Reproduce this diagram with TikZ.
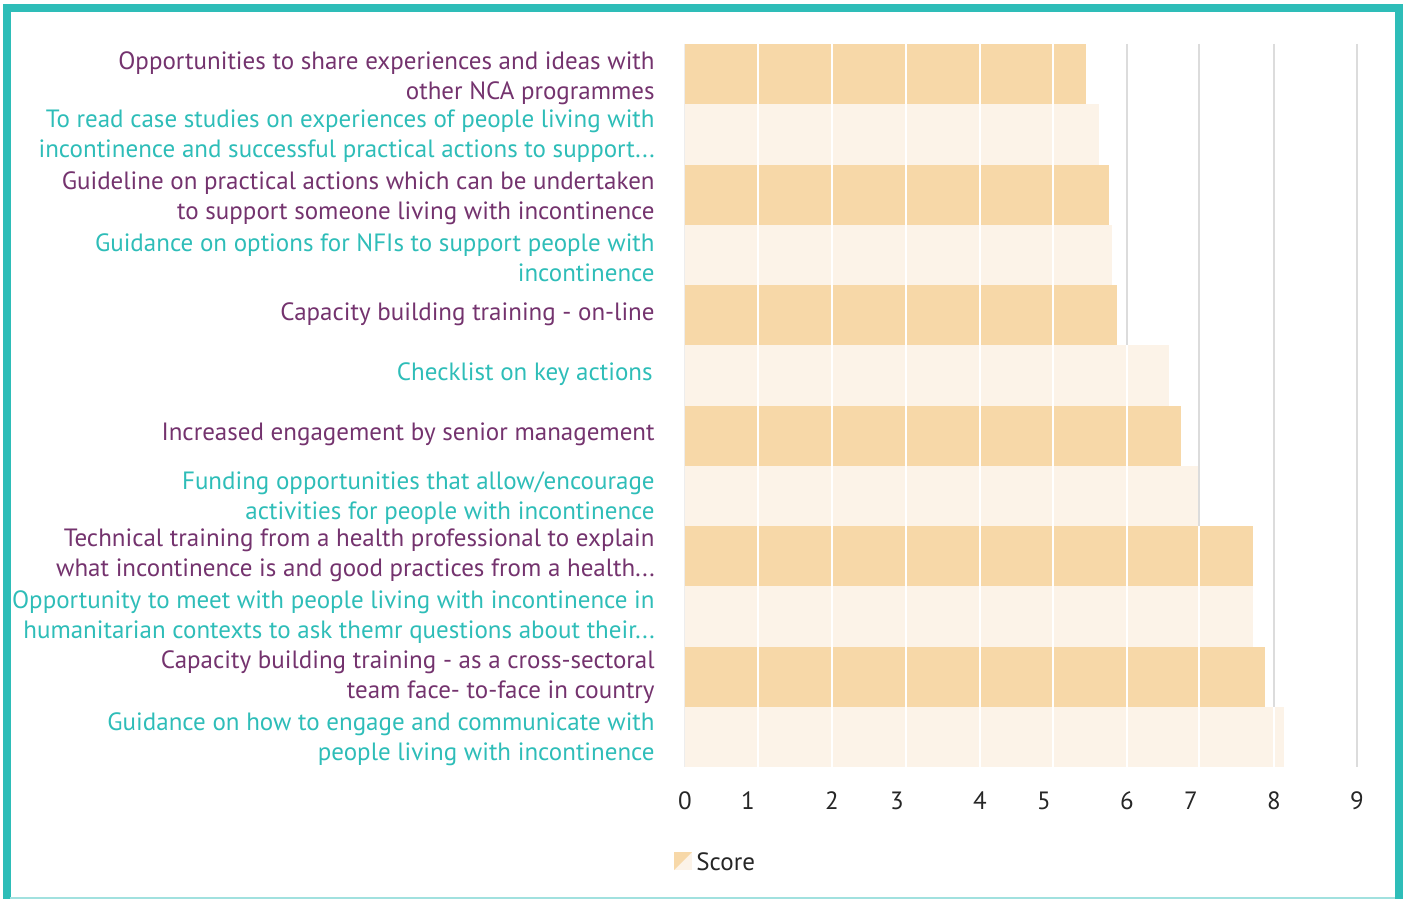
\documentclass[tikz,border=0pt]{standalone}
\usepackage{fontspec}
\setmainfont{PT Sans}
\definecolor{teal}{HTML}{2EBDB8}
\definecolor{plum}{HTML}{74336E}
\definecolor{barA}{HTML}{F7D8A8}
\definecolor{barB}{HTML}{FCF3E8}
\definecolor{gridc}{HTML}{DCDCDC}
\begin{document}
\begin{tikzpicture}[x=0.5pt,y=-0.5pt,
  lab/.style={anchor=east,align=right,inner sep=0pt,font=\fontsize{12.5}{15}\selectfont},
  odd/.style={lab,text=plum},even/.style={lab,text=teal},
  tick/.style={inner sep=0pt,font=\fontsize{12.5}{15}\selectfont,text=black!85}]

\useasboundingbox (0,0) rectangle (1407,899);

% frame
\fill[teal] (3,4) rectangle (1403,12);
\fill[teal] (3,4) rectangle (10.5,899);
\fill[teal] (1395,4) rectangle (1403,899);
\draw[teal!45,line width=1pt] (10,898) -- (1395,898);

% grid
\foreach \x in {758,832,906,980,1053,1127,1199,1274,1357}
  \draw[gridc,line width=1pt] (\x,44) -- (\x,767);
\draw[gridc!50,line width=0.5pt] (684,44) -- (684,767);

% bars
\foreach \y/\e/\c in {44/1086/barA,104.25/1099/barB,164.5/1109/barA,224.75/1112/barB,
  285/1117/barA,345.25/1169/barB,405.5/1181/barA,465.75/1198/barB,
  526/1253/barA,586.25/1253/barB,646.5/1265/barA,706.75/1284/barB}{
  \fill[\c] (685,\y) rectangle (\e,\y+60.25);
  \foreach \x in {758,832,906,980,1053,1127,1199,1274}{
    \ifdim \x pt<\e pt \draw[white,line width=0.7pt] (\x,\y) -- (\x,\y+60.25);\fi}
}

\node[odd] (l1) at (655,78) {Opportunities to share experiences and ideas with\\other NCA programmes};
\node[even] (l2) at (655,136) {To read case studies on experiences of people living with\\incontinence and successful practical actions to support...};
\node[odd] (l3) at (655,198) {Guideline on practical actions which can be undertaken\\to support someone living with incontinence};
\node[even] (l4) at (655,258) {Guidance on options for NFIs to support people with\\incontinence};
\node[odd] (l5) at (655,314) {Capacity building training - on-line};
\node[even] (l6) at (653,374) {Checklist on key actions};
\node[odd] (l7) at (655,434) {Increased engagement by senior management};
\node[even] (l8) at (655,498) {Funding opportunities that allow/encourage\\activities for people with incontinence};
\node[odd] (l9) at (655,555) {Technical training from a health professional to explain\\what incontinence is and good practices from a health...};
\node[even] (l10) at (655,617) {Opportunity to meet with people living with incontinence in\\humanitarian contexts to ask themr questions about their...};
\node[odd] (l11) at (655,677) {Capacity building training - as a cross-sectoral\\team face- to-face in country};
\node[even] (l12) at (655,739) {Guidance on how to engage and communicate with\\people living with incontinence};

% axis
\node[tick] (t0) at (685,801) {0};
\node[tick] (t1) at (748,801) {1};
\node[tick] (t2) at (832,801) {2};
\node[tick] (t3) at (897,801) {3};
\node[tick] (t4) at (980,801) {4};
\node[tick] (t5) at (1044,801) {5};
\node[tick] (t6) at (1127,801) {6};
\node[tick] (t7) at (1191,801) {7};
\node[tick] (t8) at (1274,801) {8};
\node[tick] (t9) at (1357,801) {9};

% legend
\fill[barB] (674,852) rectangle (692,870);
\fill[barA] (674,852) -- (692,852) -- (674,870) -- cycle;
\node[tick,anchor=west] (score) at (696,862) {Score};
\end{tikzpicture}
\end{document}
